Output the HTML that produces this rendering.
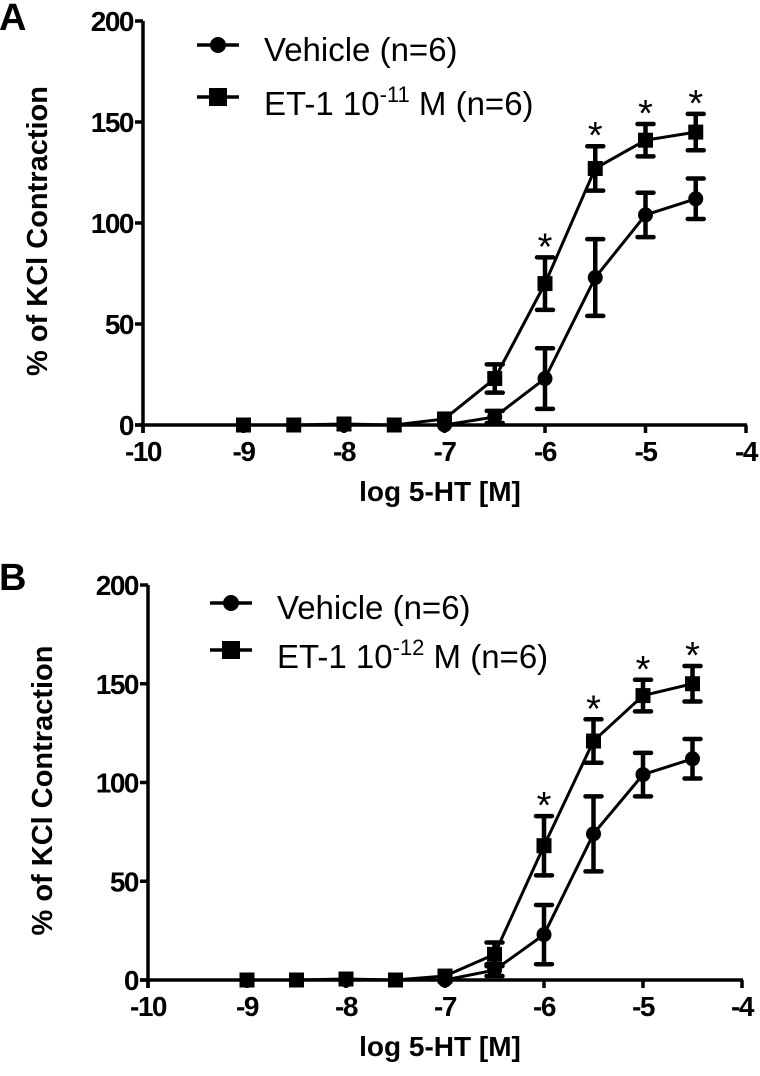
<!DOCTYPE html>
<html><head><meta charset="utf-8"><style>
html,body{margin:0;padding:0;background:#fff;}
svg text{font-family:"Liberation Sans",Arial,sans-serif;fill:#000;}
</style></head><body>
<svg id="chart" width="760" height="1071" viewBox="0 0 760 1071" xmlns="http://www.w3.org/2000/svg"></svg>
<script>
const xDoses = [-9, -8.5, -8, -7.5, -7, -6.5, -6, -5.5, -5, -4.5];
const vehA = [0, 0, 0, 0, 0, 4, 23, 73, 104, 112];
const vehAErr = [0, 0, 0, 0, 1, 3, 15, 19, 11, 10];
const etA = [0, 0, 0.5, 0, 3, 23, 70, 127, 141, 145];
const etAErr = [0, 0, 1, 1, 2, 7, 13, 11, 8, 9];
const vehB = [0, 0, 0, 0, 0, 5, 23, 74, 104, 112];
const vehBErr = [0, 0, 0, 0, 1, 3, 15, 19, 11, 10];
const etB = [0, 0, 0.5, 0, 2, 13, 68, 121, 144, 150];
const etBErr = [0, 0, 1, 1, 2, 6, 15, 11, 8, 9];
const starsA = [-6, -5.5, -5, -4.5];
const starsB = [-6, -5.5, -5, -4.5];
const yTicks = [0, 50, 100, 150, 200];
const xTicks = [-10, -9, -8, -7, -6, -5, -4];

const NS = "http://www.w3.org/2000/svg";
const svg = document.getElementById('chart');
function mk(tag, attrs, parent, text){
  const e = document.createElementNS(NS, tag);
  for (const k in attrs) e.setAttribute(k, attrs[k]);
  if (text !== undefined) e.textContent = text;
  (parent || svg).appendChild(e);
  return e;
}

function panel(cfg){
  const g = mk('g', {});
  
  
  const X = v => cfg.x0 + (v + 10) / 6 * (cfg.x1 - cfg.x0);
  const Y = v => cfg.y0 - v / 200 * (cfg.y0 - cfg.y1);
  const lt = mk('text', {x: -1, y: cfg.ly0, 'font-size': 38, 'font-weight': 'bold'}, g, cfg.letter);
  
  
  const ya = mk('line', {x1: cfg.x0, y1: cfg.y1, x2: cfg.x0, y2: cfg.y0 + 8, stroke: '#000', 'stroke-width': 3.5}, g);
  
  
  const xa = mk('line', {x1: cfg.x0 - 8, y1: cfg.y0, x2: cfg.x1 + 1, y2: cfg.y0, stroke: '#000', 'stroke-width': 3.5}, g);
  
  
  yTicks.forEach(t => {
    mk('line', {x1: cfg.x0 - 8, y1: Y(t), x2: cfg.x0, y2: Y(t), stroke: '#000', 'stroke-width': 3.5}, g);
    const tl = mk('text', {x: cfg.x0 - 10, y: Y(t) + 10, 'font-size': 28, 'font-weight': 'bold', 'text-anchor': 'end', 'letter-spacing': -1.5}, g, String(t));
    
    
  });
  xTicks.forEach(t => {
    mk('line', {x1: X(t), y1: cfg.y0, x2: X(t), y2: cfg.y0 + 8, stroke: '#000', 'stroke-width': 3.5}, g);
    const tl = mk('text', {x: X(t), y: cfg.y0 + 36, 'font-size': 28, 'font-weight': 'bold', 'text-anchor': 'middle', 'letter-spacing': -1.5}, g, String(t));
    
    
  });
  const yt = mk('text', {x: 0, y: 0, 'font-size': 29, 'font-weight': 'bold', 'text-anchor': 'middle', transform: `translate(${cfg.x0 - 96},${(cfg.y0 + cfg.y1) / 2 + 8}) rotate(-90)`}, g, '% of KCl Contraction');
  
  
  const xt = mk('text', {x: 440, y: cfg.y0 + 76, 'font-size': 28, 'font-weight': 'bold', 'text-anchor': 'middle'}, g, 'log 5-HT [M]');
  
  

  function series(vals, errs, shape, nm){
    const sg = mk('g', {}, g);
    
    
    const pts = xDoses.map((d, i) => X(d) + ',' + Y(vals[i])).join(' ');
    mk('polyline', {points: pts, fill: 'none', stroke: '#000', 'stroke-width': 3}, sg);
    xDoses.forEach((d, i) => {
      const x = X(d), y = Y(vals[i]);
      if (errs[i] > 2) {
        const eb = mk('path', {d: `M${x},${Y(vals[i] + errs[i])}V${Y(vals[i] - errs[i])}M${x - 8},${Y(vals[i] + errs[i])}H${x + 8}M${x - 8},${Y(vals[i] - errs[i])}H${x + 8}`, stroke: '#000', 'stroke-width': 4.5, 'stroke-linecap': 'round', fill: 'none'}, sg);
        
        
      }
      let m;
      if (shape === 'sq') m = mk('rect', {x: x - 7.5, y: y - 7.5, width: 15, height: 15, fill: '#000'}, sg);
      else m = mk('circle', {cx: x, cy: y, r: 7.5, fill: '#000'}, sg);
      
      
    });
  }
  series(cfg.veh, cfg.vehErr, 'ci', 'vehicle-series');
  series(cfg.et, cfg.etErr, 'sq', 'et1-series');
  cfg.stars.forEach(d => {
    const i = xDoses.indexOf(d);
    const st = mk('text', {x: X(d), y: Y(cfg.et[i] + cfg.etErr[i]) + 2, 'font-size': 38, 'text-anchor': 'middle'}, g, '*');
    
    
  });
  const lg = mk('g', {}, g);
  
  
  const lx = cfg.lx, ly1 = cfg.ly, ly2 = cfg.ly + cfg.lsp;
  mk('line', {x1: lx, y1: ly1, x2: lx + 42, y2: ly1, stroke: '#000', 'stroke-width': 3.5}, lg);
  mk('circle', {cx: lx + 21, cy: ly1, r: 8, fill: '#000'}, lg);
  const e1 = mk('text', {x: lx + 67, y: ly1 + 16, 'font-size': 33}, lg, 'Vehicle (n=6)');
  
  
  mk('line', {x1: lx, y1: ly2, x2: lx + 42, y2: ly2, stroke: '#000', 'stroke-width': 3.5}, lg);
  mk('rect', {x: lx + 12, y: ly2 - 9, width: 18, height: 18, fill: '#000'}, lg);
  const e2 = mk('text', {x: lx + 67, y: ly2 + 18, 'font-size': 33}, lg);
  
  
  e2.appendChild(document.createTextNode('ET-1 10'));
  mk('tspan', {dy: -13, 'font-size': 22}, e2, cfg.exp);
  mk('tspan', {dy: 13}, e2, ' M (n=6)');
}

panel({name: 'panel-a', letter: 'A', ly0: 30, x0: 143, x1: 746, y0: 425, y1: 21,
  veh: vehA, vehErr: vehAErr, et: etA, etErr: etAErr, stars: starsA, lx: 197, ly: 45, lsp: 52, exp: '-11'});
panel({name: 'panel-b', letter: 'B', ly0: 590, x0: 148, x1: 742, y0: 980, y1: 585, 
  veh: vehB, vehErr: vehBErr, et: etB, etErr: etBErr, stars: starsB, lx: 210, ly: 603, lsp: 47, exp: '-12'});
</script>
</body></html>
